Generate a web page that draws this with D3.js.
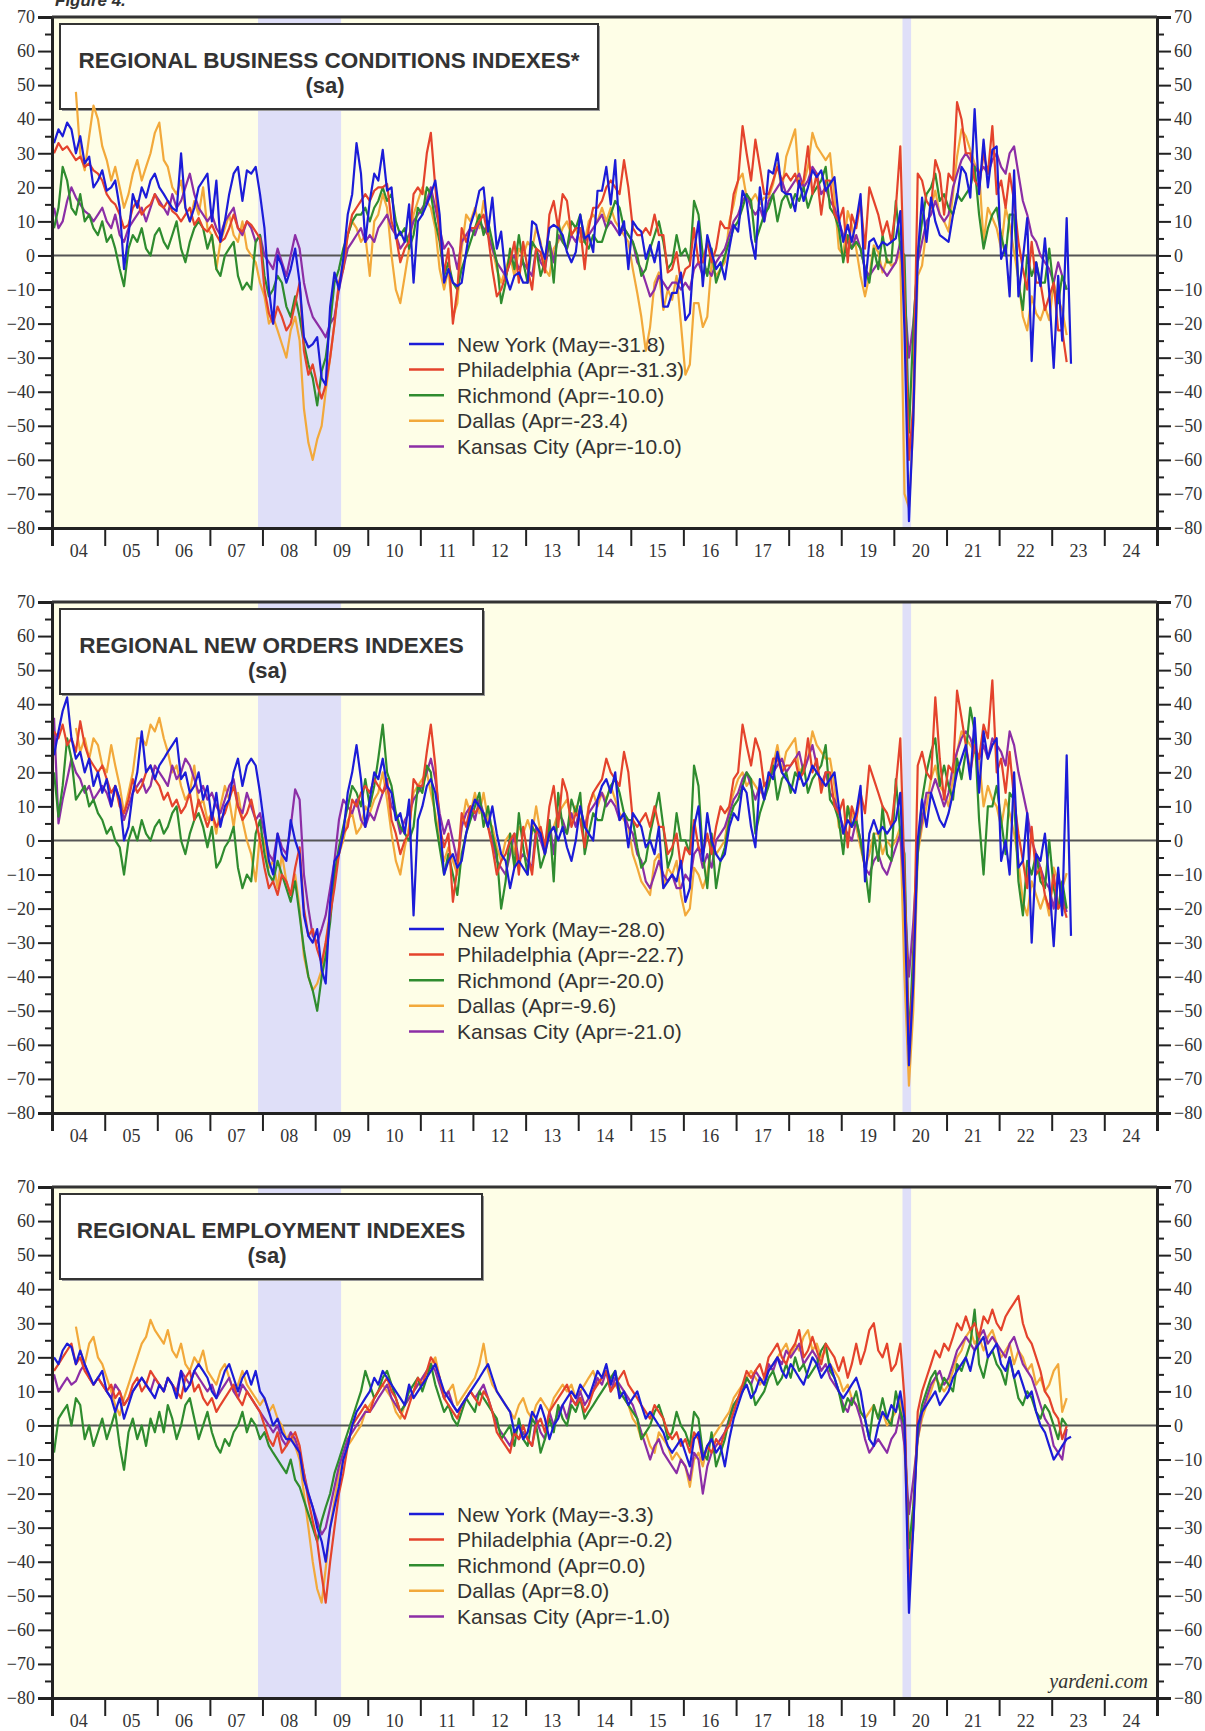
<!DOCTYPE html>
<html>
<head>
<meta charset="utf-8">
<script src="https://cdn.jsdelivr.net/npm/d3@7"></script>
<style>
  body { margin: 0; background: #fff; }
  svg text { fill: #333; }
</style>
</head>
<body>
<script>
// monthly values, Jan 2004 onwards (Dallas starts Jun 2004)
const regions = ["New York", "Philadelphia", "Richmond", "Dallas", "Kansas City"];

const nyBiz = [
  33, 37, 35, 39, 37, 30, 35, 27, 29, 20, 22, 25,
  19, 20, 22, 14, -4, 6, 18, 14, 20, 17, 22, 24,
  20, 18, 16, 14, 13, 30, 14, 10, 14, 20, 22, 24,
  10, 22, 4, 10, 18, 24, 26, 16, 25, 24, 26, 18,
  8, -10, -20, 0, -3, -8, -4, 2, -8, -24, -27, -26,
  -24, -36, -38, -15, -5, -10, -1, 12, 18, 33, 24, 4,
  16, 24, 22, 31, 19, 20, 5, 7, 4, 15, -8, 10,
  12, 15, 18, 22, 12, -8, -4, -8, -9, -8, 1, 9,
  13, 19, 20, 7, 17, 2, 7, -6, -10, -6, -5, -8,
  -8, 10, 9, 3, -1, 8, 9, 8, 6, 1, -2, 1,
  12, 5, 6, 1, 19, 19, 26, 15, 28, 6, 10, -4,
  10, 8, 7, -1, 3, -2, 4, -15, -15, -11, -11, -5,
  -19, -17, 1, 10, -9, 6, 1, -4, -2, -7, 2, 9,
  7, 19, 16, 5, -1, 20, 10, 25, 24, 30, 19, 18,
  18, 13, 22, 16, 20, 25, 23, 25, 19, 21, 23, 11,
  4, 9, 4, 10, 18, -9, 4, 5, 2, 4, 3, 4,
  5, 13, -22, -78, -48, 0, 17, 4, 17, 10, 6, 5,
  4, 12, 17, 26, 24, 17, 43, 18, 34, 20, 31, 32,
  -1, 3, -12, 25, -12, -1, 11, -31, -2, -9, 5, -11,
  -33, -6, -25, 11, -31.8
];
const phBiz = [
  30, 33, 31, 32, 30, 28, 29, 26, 27, 25, 24, 22,
  18, 16, 15, 12, 8, 9, 14, 16, 12, 14, 15, 18,
  15, 14, 16, 13, 12, 10, 12, 14, 9, 11, 8, 7,
  9, 6, 4, 5, 8, 12, 8, 7, 10, 9, 7, 5,
  -10, -17, -20, -15, -18, -22, -20, -14, -8, -28, -35, -32,
  -38, -42, -38, -30, -20, -8, -4, 6, 12, 14, 16, 18,
  16, 19, 20, 20, 21, 10, 6, -2, 2, 4, 18, 20,
  18, 30, 36, 20, 6, -5, 2, -20, -10, 8, 4, 8,
  8, 10, 12, 6, -4, -12, -10, -6, -2, 4, -8, 4,
  -4, -10, 2, 1, -5, 12, 16, 8, 18, 16, 6, 8,
  8, -4, 8, 14, 14, 16, 20, 22, 20, 18, 28, 20,
  8, 6, 6, 8, 6, 12, 6, 6, -5, -4, 1, -8,
  -4, -3, 8, -2, -2, 4, -2, 2, 10, 8, 8, 18,
  22, 38, 30, 22, 34, 26, 18, 18, 22, 26, 22, 24,
  22, 24, 20, 22, 32, 18, 24, 12, 22, 22, 12, 10,
  14, -2, 12, 8, 16, 2, 20, 16, 12, 6, 10, 4,
  14, 32, -12, -60, -44, 24, 22, 16, 14, 28, 24, 12,
  24, 22, 45, 40, 30, 30, 22, 20, 30, 24, 38, 18,
  22, 14, 24, 16, 4, -4, -10, 4, -8, -8, -16, -12,
  -8, -22, -22, -31.3
];
const riBiz = [
  8, 14, 26, 22, 14, 12, 18, 10, 12, 8, 6, 10,
  4, 6, 2, -4, -9, 2, 6, 4, 8, 2, 0, 6,
  8, 4, 2, 6, 10, 2, -2, 4, 8, 10, 8, 2,
  6, -4, -6, 0, 2, 4, -6, -10, -8, -10, 4, 6,
  -6, -12, -10, -6, -8, -15, -18, -12, -18, -26, -32, -36,
  -44, -34, -30, -20, -8, -4, 2, 6, 10, 12, 12, 14,
  10, 14, 16, 20, 16, 18, 10, 6, 8, 2, 6, 14,
  12, 20, 18, 10, 4, -6, -2, -8, -10, -4, 0, 4,
  8, 12, 6, 10, 4, -2, -14, -8, 2, -4, 6, -2,
  -8, 4, 2, -6, -2, 4, -8, 10, 4, 2, 10, 8,
  12, 4, 2, 6, 4, 4, 8, 12, 16, 14, 8, 6,
  4, 0, -6, -4, 2, 6, 10, 4, -4, -2, 6, 0,
  2, -2, 16, 12, 0, -6, 2, -8, -4, 0, 4, 8,
  10, 14, 18, 16, 4, 8, 12, 14, 18, 10, 16, 18,
  14, 18, 16, 20, 14, 18, 20, 22, 26, 14, 12, 8,
  -2, 6, 2, 4, 2, -4, -8, 2, -4, 6, -2, -2,
  16, 2, 0, -52, -22, 0, 10, 18, 20, 24, 16, 18,
  14, 12, 18, 16, 18, 20, 26, 12, 2, 8, 12, 14,
  6, 0, 12, 12, -8, -16, 0, -6, -2, -8, -8, 2,
  -10, -14, -6, -10
];
const daBiz = [
  48, 30, 25, 35, 44, 40, 32,
  28, 22, 26, 20, 14, 18, 24, 28, 22, 26, 30, 36,
  39, 28, 26, 20, 18, 22, 14, 10, 16, 12, 20, 8,
  6, -4, 4, 8, 12, 6, 4, 10, 2, 0, -2, -8,
  -12, -20, -18, -22, -26, -30, -22, -18, -25, -45, -55, -60,
  -54, -50, -40, -30, -20, -8, -2, 6, 10, 8, 4, 6,
  -6, 10, 12, 18, 14, 0, -10, -14, -6, 2, 12, 16,
  20, 16, 14, 8, -4, -10, -4, -18, -14, 2, 12, 10,
  14, 8, 16, 8, 2, -4, -8, -4, 0, -6, 2, 0,
  4, 2, 8, 4, -4, -6, 2, 4, 8, 10, 6, 8,
  4, 4, 10, 12, 10, 14, 10, 14, 10, 8, 6, 4,
  -4, -11, -18, -28, -21, -8, -5, -16, -10, -13, -6, -20,
  -35, -32, -14, -14, -21, -18, -2, -6, -4, -2, 10, 15,
  22, 24, 17, 16, 18, 15, 17, 17, 21, 27, 19, 29,
  33, 37, 21, 21, 26, 36, 32, 30, 28, 30, 17, 2,
  0, 13, 9, 2, -6, -12, -6, 3, 1, -5, -1, -3,
  -2, 1, -70, -74, -50, -6, -3, 8, 14, 19, 12, 10,
  7, 18, 29, 37, 35, 31, 27, 25, 4, 14, 11, 8,
  2, 14, 9, 1, -7, -18, -22, -12, -17, -19, -15, -19,
  -8, -13, -16, -23.4
];
const kcBiz = [
  14, 8, 10, 16, 20, 17, 15, 13, 12, 10, 12, 14,
  10, 8, 12, 6, 4, 8, 10, 12, 14, 10, 14, 18,
  16, 14, 12, 18, 14, 16, 20, 24, 18, 14, 12, 10,
  12, 8, 6, 10, 12, 14, 8, 6, 10, 8, 4, 6,
  0, -2, -4, 2, -2, -6, 0, 6, 2, -8, -14, -18,
  -20, -22, -24, -20, -18, -10, -4, 2, 4, 6, 8, 4,
  6, 4, 8, 10, 12, 8, 6, 2, 4, 6, 10, 12,
  14, 16, 20, 14, 8, 2, 4, 2, -4, 4, 6, 8,
  6, 10, 8, 6, 2, -2, -4, -6, -2, 0, -4, -2,
  -4, -6, 2, -2, -4, 4, -2, 6, 4, 2, 6, 4,
  8, 4, 6, 8, 10, 12, 8, 10, 8, 6, 8, 6,
  4, -2, -4, -8, -12, -10, -6, -8, -10, -8, -8, -10,
  -8, -10, -4, -2, -6, -4, -6, -2, 0, 2, 6, 10,
  12, 16, 18, 14, 12, 14, 10, 16, 18, 20, 22, 18,
  20, 22, 24, 20, 22, 26, 24, 18, 20, 16, 14, 10,
  6, 4, 2, 6, 2, -4, -6, -4, -2, -4, -6, -4,
  -2, 4, -12, -30, -20, -2, 4, 10, 12, 16, 12, 10,
  12, 20, 24, 28, 30, 28, 26, 24, 26, 24, 28, 30,
  26, 24, 30, 32, 24, 16, 12, 6, 4, 0, -2, -4,
  -8, -2, -6, -10
];

const nyOrd = [
  25, 32, 38, 42, 30, 24, 26, 20, 24, 16, 20, 14,
  18, 10, 16, 12, 0, 4, 14, 20, 32, 20, 22, 18,
  22, 24, 26, 28, 30, 18, 20, 14, 16, 20, 12, 16,
  6, 14, 4, 10, 12, 20, 24, 16, 22, 24, 22, 14,
  4, -6, -10, 2, -4, -6, 6, 0, -4, -22, -28, -30,
  -26, -38, -42, -18, -6, -4, 2, 14, 20, 28, 18, 4,
  12, 20, 18, 24, 16, 14, 6, 8, 2, 12, -22, 6,
  10, 16, 18, 14, 6, -10, -6, -4, -8, -6, 2, 8,
  12, 10, 8, 4, 10, 2, -4, -6, -14, -8, -6, -8,
  -10, 6, 4, 2, -4, 2, 4, 0, 4, -2, -6, 0,
  10, 4, 2, 0, 12, 16, 18, 14, 20, 6, 8, -2,
  8, 6, 4, -2, 0, -4, 4, -14, -12, -10, -12, -6,
  -18, -14, 4, 10, -6, 8, 0, -4, -6, -4, 4, 8,
  6, 16, 14, 4, -2, 18, 12, 20, 18, 26, 20, 18,
  16, 14, 20, 16, 18, 22, 20, 18, 16, 18, 20, 10,
  2, 6, 4, 8, 16, -12, 2, 6, 2, 4, 2, 4,
  6, 14, -18, -66, -42, 0, 12, 4, 14, 10, 6, 4,
  8, 14, 20, 24, 28, 18, 36, 14, 32, 24, 28, 30,
  -6, 0, -10, 20, -8, -6, 8, -30, -4, -6, 2, -12,
  -31, -8, -22, 25, -28
];
const phOrd = [
  32, 30, 34, 28, 30, 26, 35, 28, 24, 22, 20, 22,
  18, 14, 16, 10, 8, 12, 18, 14, 16, 20, 22, 18,
  16, 12, 14, 10, 12, 8, 10, 14, 6, 12, 8, 4,
  8, 4, 6, 8, 12, 16, 10, 6, 8, 12, 6, 0,
  -8, -14, -12, -16, -10, -12, -16, -8, -2, -20, -28, -26,
  -32, -36, -30, -22, -14, -4, 2, 4, 12, 10, 14, 16,
  14, 18, 16, 14, 18, 6, 2, -4, 0, 2, 18, 16,
  16, 26, 34, 22, 4, -2, 2, -18, -8, 8, 4, 10,
  8, 10, 8, 4, -2, -10, -6, -4, 0, 2, -10, 4,
  -4, -10, 2, 4, -2, 10, 16, 4, 18, 14, 4, 8,
  6, -2, 10, 14, 16, 18, 24, 20, 18, 16, 26, 20,
  6, 4, 6, 8, 4, 10, 4, 4, -4, -2, 2, -8,
  -2, -4, 6, -2, -4, 2, -4, 4, 10, 8, 10, 18,
  20, 34, 28, 22, 30, 26, 16, 18, 24, 24, 20, 22,
  22, 24, 18, 20, 30, 20, 24, 14, 20, 20, 10, 8,
  12, -2, 10, 6, 14, 8, 22, 18, 14, 10, 8, 4,
  16, 30, -10, -60, -40, 22, 26, 20, 18, 42, 24, 12,
  22, 20, 44, 36, 28, 20, 28, 24, 34, 30, 47, 20,
  24, 14, 26, 12, 2, -6, -14, 4, -10, -8, -16, -20,
  -10, -20, -18, -22.7
];
const riOrd = [
  20, 7, 16, 30, 24, 12, 14, 16, 10, 12, 8, 6,
  2, 4, 0, -2, -10, 0, 4, 0, 6, 2, 0, 4,
  6, 2, 4, 8, 10, 0, -4, 2, 6, 8, 4, -2,
  4, -8, -6, -2, 0, 4, -8, -14, -10, -12, 2, 6,
  -4, -10, -12, -6, -10, -14, -18, -12, -22, -32, -40, -44,
  -50, -40, -34, -24, -10, -2, 4, 10, 16, 14, 10, 18,
  10, 16, 24, 34, 20, 16, 8, 4, 2, 0, 4, 16,
  14, 22, 20, 6, -2, -10, -4, -10, -16, -4, 2, 6,
  10, 14, 4, 10, 2, -4, -20, -12, 2, -8, 8, -2,
  -10, 4, 2, -8, -4, 6, -12, 14, 4, 2, 12, 8,
  14, -4, 2, 8, 6, 6, 12, 16, 18, 14, 8, 6,
  6, -2, -8, -6, 2, 8, 14, 4, -8, -4, 8, 0,
  0, -4, 22, 16, -4, -14, 2, -14, -6, -2, 6, 10,
  12, 16, 20, 18, 2, 8, 12, 16, 22, 12, 18, 20,
  14, 20, 18, 22, 14, 18, 20, 22, 28, 12, 10, 6,
  -4, 10, 4, 6, 0, -8, -18, 2, -6, 10, -4, -6,
  18, 2, -4, -60, -32, -4, 12, 20, 26, 30, 16, 22,
  16, 12, 24, 18, 26, 39, 32, 6, -10, 10, 10, 16,
  6, -4, 14, 12, -12, -22, -6, -10, -4, -12, -14, 0,
  -14, -20, -12, -20
];
const daOrd = [
  33, 26, 30, 24, 30, 28, 22,
  20, 28, 22, 16, 8, 14, 20, 30, 30, 28, 34, 32,
  36, 30, 26, 20, 22, 16, 12, 14, 22, 10, 12, 6,
  8, 2, 10, 16, 12, 4, 14, 6, 0, -4, -12, 2,
  0, -8, -6, -14, -4, -12, -16, -10, -20, -34, -40, -44,
  -42, -38, -30, -20, -10, -4, 0, 6, 8, 2, 4, 10,
  8, 12, 14, 20, 12, 2, -6, -10, -2, 4, 14, 16,
  18, 20, 14, 8, 0, -6, -2, -6, -10, 4, 12, 8,
  14, 8, 14, 6, 4, -2, -6, 0, 2, -4, 4, 2,
  6, 2, 10, 2, -4, 2, 4, 8, 10, 12, 6, 10,
  6, 4, 10, 14, 10, 14, 12, 16, 12, 8, 6, 4,
  -4, -8, -12, -14, -16, -6, -4, -14, -8, -10, -6, -16,
  -22, -20, -8, -10, -14, -10, 0, -4, -2, 0, 10, 14,
  18, 20, 16, 18, 16, 14, 16, 18, 22, 28, 20, 26,
  28, 30, 20, 22, 24, 32, 28, 26, 24, 24, 16, 4,
  2, 10, 8, 4, -2, -8, -4, 2, 2, -4, 0, -2,
  0, 4, -40, -72, -50, -4, 4, 10, 18, 22, 16, 14,
  10, 18, 26, 32, 30, 28, 26, 24, 10, 16, 12, 10,
  4, 12, 8, 2, -6, -18, -22, -12, -16, -20, -16, -22,
  -8, -12, -14, -9.6
];
const kcOrd = [
  36, 5, 12, 18, 24, 20, 18, 14, 16, 12, 14, 16,
  14, 10, 16, 12, 6, 10, 14, 16, 18, 14, 16, 22,
  20, 18, 16, 22, 18, 20, 24, 22, 18, 14, 16, 12,
  14, 10, 8, 12, 16, 18, 10, 8, 14, 10, 6, 8,
  2, -4, -6, 2, -2, -4, 4, 15, 12, -10, -20, -28,
  -30, -26, -22, -14, -6, 6, 12, 10, 8, 12, 6, 4,
  8, 6, 10, 14, 16, 10, 8, 2, 6, 8, 12, 14,
  16, 20, 24, 18, 8, 2, 6, 0, -6, 4, 8, 10,
  6, 12, 8, 4, 0, -6, -8, -10, -4, 2, -6, -4,
  -6, -8, 4, 0, -4, 6, -4, 8, 6, 2, 8, 4,
  10, 4, 8, 10, 12, 14, 10, 12, 10, 6, 8, 4,
  2, -4, -6, -12, -14, -10, -6, -10, -12, -10, -14, -14,
  -10, -12, -4, -2, -8, -4, -8, 0, 2, 4, 8, 12,
  14, 18, 20, 16, 12, 16, 12, 18, 20, 22, 24, 20,
  22, 24, 26, 20, 24, 28, 22, 16, 20, 14, 12, 8,
  4, 2, 0, 6, 0, -8, -10, -6, -4, -8, -10, -6,
  -2, 2, -16, -40, -24, -2, 6, 14, 14, 18, 14, 10,
  14, 22, 26, 30, 32, 30, 26, 24, 28, 24, 30, 28,
  26, 22, 32, 28, 20, 14, 8, 0, -4, -8, -12, -14,
  -20, -10, -16, -21
];

const nyEmp = [
  20, 18, 22, 24, 23, 18, 22, 18, 15, 12, 14, 16,
  10, 8, 4, 8, 2, 6, 10, 12, 14, 12, 10, 8,
  12, 10, 14, 12, 8, 16, 10, 12, 16, 18, 16, 14,
  10, 8, 12, 16, 18, 14, 10, 14, 16, 12, 16, 10,
  8, 4, 0, 2, -2, -4, -4, -6, -8, -16, -20, -24,
  -30, -34, -40, -30, -24, -18, -10, -6, 0, 4, 6, 8,
  10, 14, 12, 16, 14, 12, 10, 8, 6, 12, 8, 10,
  12, 14, 16, 18, 14, 10, 8, 6, 4, 6, 8, 10,
  12, 14, 16, 18, 14, 10, 8, 6, 4, -2, 0, -4,
  -2, 4, 2, 6, 2, -4, 0, 2, 6, 8, 10, 8,
  12, 10, 8, 12, 16, 14, 18, 12, 16, 8, 10, 6,
  8, 10, 6, 2, 4, 2, 0, -2, -6, -8, -6, -4,
  -8, -12, -4, -2, -10, -6, -4, -8, -6, -12, -4, 2,
  6, 10, 12, 8, 10, 14, 12, 16, 18, 20, 16, 14,
  18, 16, 14, 12, 16, 20, 18, 14, 16, 18, 14, 10,
  8, 10, 12, 14, 10, 2, -4, -6, 0, 4, 2, 6,
  4, 10, 2, -55, -30, 0, 4, 6, 8, 10, 6, 8,
  10, 14, 16, 18, 20, 16, 22, 24, 26, 20, 22, 24,
  18, 16, 20, 14, 16, 12, 8, 10, 4, 0, -2, -6,
  -10, -8, -6, -4, -3.3
];
const phEmp = [
  16, 18, 20, 22, 24, 18, 20, 16, 14, 12, 14, 12,
  10, 12, 8, 10, 6, 8, 12, 14, 10, 12, 16, 14,
  12, 10, 14, 12, 10, 8, 14, 16, 10, 12, 8, 6,
  8, 4, 6, 8, 10, 12, 8, 6, 10, 8, 6, 4,
  0, -4, -6, -2, -8, -6, -4, -2, -6, -14, -22, -28,
  -34, -44, -52, -40, -30, -20, -14, -6, 0, 2, 4, 6,
  4, 8, 10, 12, 14, 10, 8, 4, 2, 6, 10, 14,
  12, 16, 20, 18, 14, 8, 6, 4, 2, 6, 8, 10,
  8, 6, 10, 8, 4, -2, -4, -6, -8, -2, -4, 0,
  -4, -6, 0, 2, -2, 4, 6, 8, 10, 12, 8, 6,
  8, 4, 6, 10, 12, 14, 16, 10, 12, 14, 16, 12,
  10, 8, 6, 4, 2, 6, 4, 2, -2, -4, -2, -6,
  -4, -8, -2, -4, -10, -6, -8, -4, -6, -2, 0, 4,
  8, 12, 16, 14, 16, 18, 14, 20, 22, 24, 20, 18,
  22, 24, 28, 20, 22, 26, 22, 18, 24, 22, 20, 16,
  20, 14, 18, 24, 18, 22, 28, 30, 22, 20, 24, 16,
  18, 24, 8, -46, -30, 4, 10, 14, 18, 22, 20, 24,
  22, 26, 30, 28, 32, 28, 30, 26, 32, 30, 34, 30,
  28, 32, 34, 36, 38, 30, 26, 24, 20, 16, 10, 8,
  4, 2, -4, -0.2
];
const riEmp = [
  -8, 2, 4, 6, 0, 8, 6, -4, 0, -6, -2, 2,
  -4, 0, 4, -6, -13, -2, 2, -4, 0, -6, 2, -2,
  4, -2, 6, 2, -4, 0, 6, 8, 2, -4, 0, 4,
  -2, -6, -8, -4, -6, -2, 0, 4, -2, 2, 0, -4,
  -2, -6, -8, -10, -12, -14, -10, -16, -18, -22, -26, -30,
  -34, -28, -24, -20, -14, -10, -6, -2, 2, 6, 10, 16,
  12, 8, 10, 14, 16, 12, 8, 4, 6, 10, 12, 14,
  10, 14, 18, 12, 8, 4, 6, 2, 0, 4, 8, 6,
  4, 10, 8, 6, 4, 2, -4, -2, 0, -6, 2, -4,
  -6, 2, 0, -8, -4, 2, -2, 6, 2, 0, 6, 4,
  8, 2, 4, 6, 8, 10, 12, 14, 16, 10, 8, 6,
  4, 2, -4, -2, 0, 4, 6, 2, -4, -2, 4, 0,
  -2, -6, 4, 2, -8, -10, -2, -12, -8, -4, 2, 6,
  8, 10, 14, 12, 6, 8, 10, 14, 16, 12, 14, 18,
  14, 20, 16, 18, 14, 16, 18, 22, 24, 16, 14, 10,
  4, 8, 6, 10, 4, 2, -4, 6, 2, 8, 2, 0,
  10, 4, 0, -36, -24, -2, 6, 10, 14, 16, 10, 14,
  12, 10, 18, 16, 20, 24, 34, 18, 14, 20, 22, 18,
  16, 12, 20, 14, 8, 6, 10, 8, 4, 2, 6, 4,
  0, -4, 2, 0
];
const daEmp = [
  29, 22, 18, 24, 26, 20, 18,
  14, 10, 6, 3, 8, 12, 16, 20, 24, 26, 31, 28,
  26, 24, 28, 22, 20, 24, 18, 16, 20, 18, 22, 16,
  14, 12, 16, 18, 14, 10, 12, 16, 12, 10, 8, 6,
  8, 4, 6, 2, 0, -4, -2, -6, -10, -20, -30, -40,
  -48, -52, -42, -30, -22, -14, -10, -6, -4, -2, 0, 4,
  6, 8, 10, 12, 10, 8, 4, 2, 6, 8, 10, 12,
  14, 16, 18, 20, 14, 8, 10, 12, 6, 8, 10, 12,
  14, 18, 24, 16, 12, 10, 8, 6, 4, 2, 6, 8,
  4, 2, 6, 8, 6, 4, 8, 10, 12, 10, 12, 8,
  10, 12, 14, 16, 12, 14, 16, 14, 12, 10, 8, 6,
  2, 0, -4, -2, -6, -8, -2, -4, -6, -10, -8, -10,
  -12, -18, -10, -8, -12, -6, -4, -2, 0, 2, 4, 8,
  10, 12, 14, 16, 14, 12, 14, 16, 18, 20, 22, 24,
  20, 24, 22, 26, 28, 22, 24, 20, 22, 18, 16, 14,
  10, 12, 8, 6, 4, 2, 4, 6, 2, 4, 0, 2,
  4, 8, -6, -40, -24, -4, 2, 6, 10, 14, 12, 10,
  12, 16, 20, 22, 26, 28, 24, 26, 22, 26, 28, 24,
  20, 22, 24, 18, 22, 20, 16, 18, 12, 14, 10, 12,
  16, 18, 4, 8
];
const kcEmp = [
  15, 10, 12, 14, 12, 13, 16, 18, 14, 12, 14, 12,
  10, 8, 12, 10, 6, 8, 10, 12, 14, 12, 10, 14,
  12, 10, 14, 12, 10, 16, 14, 12, 16, 14, 12, 10,
  12, 8, 10, 12, 14, 10, 8, 12, 10, 8, 6, 4,
  2, 0, -2, 0, -4, -6, -2, -4, -8, -14, -20, -24,
  -28, -32, -30, -24, -18, -12, -8, -4, -2, 0, 2, 4,
  4, 6, 8, 10, 12, 8, 6, 4, 6, 8, 10, 12,
  14, 16, 18, 16, 12, 8, 10, 6, 4, 6, 8, 10,
  8, 10, 12, 8, 4, 0, -2, -4, -6, -2, -4, -2,
  -4, -6, 2, -2, -4, 4, 0, 4, 6, 2, 8, 6,
  10, 6, 8, 10, 14, 12, 16, 10, 14, 12, 10, 8,
  6, 2, -2, -6, -10, -6, -4, -8, -10, -12, -14, -10,
  -12, -16, -8, -10, -20, -12, -8, -6, -4, -2, 2, 6,
  8, 10, 14, 12, 16, 14, 12, 18, 16, 20, 18, 22,
  20, 22, 24, 18, 20, 22, 20, 16, 18, 14, 12, 10,
  6, 4, 8, 6, 2, -4, -8, -6, -4, -6, -8, -4,
  -2, 4, -6, -26, -16, -4, 4, 8, 12, 14, 16, 12,
  14, 18, 22, 24, 26, 24, 22, 26, 28, 24, 26, 24,
  22, 20, 24, 26, 22, 18, 16, 14, 10, 6, 2, 0,
  -6, -8, -10, -1
];

const titles = ["REGIONAL BUSINESS CONDITIONS INDEXES*", "REGIONAL NEW ORDERS INDEXES", "REGIONAL EMPLOYMENT INDEXES"];
const legendLabels = [
  ["New York (May=-31.8)", "Philadelphia (Apr=-31.3)", "Richmond (Apr=-10.0)", "Dallas (Apr=-23.4)", "Kansas City (Apr=-10.0)"],
  ["New York (May=-28.0)", "Philadelphia (Apr=-22.7)", "Richmond (Apr=-20.0)", "Dallas (Apr=-9.6)", "Kansas City (Apr=-21.0)"],
  ["New York (May=-3.3)", "Philadelphia (Apr=-0.2)", "Richmond (Apr=0.0)", "Dallas (Apr=8.0)", "Kansas City (Apr=-1.0)"]
];
const yTicks = d3.range(-80, 71, 10);
const years = d3.range(2004, 2025);
const recessions = [["2007-12-01", "2009-06-30"], ["2020-03-01", "2020-04-30"]];

const panels = [
  [nyBiz, phBiz, riBiz, daBiz, kcBiz],
  [nyOrd, phOrd, riOrd, daOrd, kcOrd],
  [nyEmp, phEmp, riEmp, daEmp, kcEmp]
];
const startMonth = [0, 0, 0, 5, 0]; // Dallas begins June 2004

const colors = ["#1c1cd8", "#e4432c", "#2f8c2f", "#f2a93b", "#8c2ea6"];
const drawOrder = [3, 4, 2, 1, 0];

const width = 1205;
const height = 1731;
const left = 52;
const right = 1157;
const panelH = 511;
const panelTops = [17, 602, 1187];
const boxWidths = [538, 423, 422];

const parse = d3.timeParse("%Y-%m-%d");
const x = d3.scaleTime()
  .domain([new Date(2004, 0, 1), new Date(2025, 0, 1)])
  .range([left, right]);

const svg = d3.select("body").append("svg")
  .attr("width", width)
  .attr("height", height);

svg.append("text")
  .attr("x", 55).attr("y", 6)
  .attr("font-family", "Liberation Sans, Arial, sans-serif")
  .attr("font-size", 17).attr("font-weight", "bold").attr("font-style", "italic")
  .text("Figure 4.");

function toSeries(values, start) {
  return values.map((v, i) => ({ date: new Date(2004, start + i, 15), value: v }));
}

function drawPanel(p) {
  const top = panelTops[p];
  const y = d3.scaleLinear().domain([-80, 70]).range([top + panelH, top]);
  const g = svg.append("g");

  g.append("rect")
    .attr("x", left).attr("y", top)
    .attr("width", right - left).attr("height", panelH)
    .attr("fill", "#fefee7");

  g.selectAll(".rec")
    .data(recessions)
    .enter()
    .append("rect")
    .attr("x", (d) => x(parse(d[0])))
    .attr("width", (d) => x(parse(d[1])) - x(parse(d[0])))
    .attr("y", top)
    .attr("height", panelH)
    .attr("fill", "#dfdff8");

  g.append("line")
    .attr("x1", left).attr("x2", right)
    .attr("y1", y(0)).attr("y2", y(0))
    .attr("stroke", "#555").attr("stroke-width", 2);

  // title box
  const bx = 60, by = top + 7, bw = boxWidths[p], bh = 85;
  g.append("rect")
    .attr("x", bx + 2).attr("y", by + 2).attr("width", bw).attr("height", bh)
    .attr("fill", "#999");
  g.append("rect")
    .attr("x", bx).attr("y", by).attr("width", bw).attr("height", bh)
    .attr("fill", "#fff").attr("stroke", "#333").attr("stroke-width", 2);
  g.append("text")
    .attr("x", bx + bw / 2).attr("y", by + 44)
    .attr("text-anchor", "middle")
    .attr("font-family", "Liberation Sans, Arial, sans-serif")
    .attr("font-size", 22.5).attr("font-weight", "bold")
    .attr("fill", "#111")
    .text(titles[p]);
  g.append("text")
    .attr("x", bx + bw / 2 - 4).attr("y", by + 69)
    .attr("text-anchor", "middle")
    .attr("font-family", "Liberation Sans, Arial, sans-serif")
    .attr("font-size", 22).attr("font-weight", "bold")
    .attr("fill", "#111")
    .text("(sa)");

  // series
  const clipId = "clip" + p;
  svg.append("clipPath").attr("id", clipId)
    .append("rect").attr("x", left).attr("y", top).attr("width", right - left).attr("height", panelH);

  const line = d3.line()
    .x((d) => x(d.date))
    .y((d) => y(d.value));

  drawOrder.forEach((k) => {
    g.append("path")
      .datum(toSeries(panels[p][k], startMonth[k]))
      .attr("clip-path", "url(#" + clipId + ")")
      .attr("fill", "none")
      .attr("stroke", colors[k])
      .attr("stroke-width", 2.2)
      .attr("stroke-linejoin", "round")
      .attr("d", line);
  });

  // legend
  const lg = g.append("g").attr("transform", "translate(409," + (top + 327) + ")");
  regions.forEach((r, i) => {
    lg.append("line")
      .attr("x1", 0).attr("x2", 35)
      .attr("y1", i * 25.6).attr("y2", i * 25.6)
      .attr("stroke", colors[i]).attr("stroke-width", 2.5);
    lg.append("text")
      .attr("x", 48).attr("y", i * 25.6).attr("dy", "0.36em")
      .attr("font-family", "Liberation Sans, Arial, sans-serif")
      .attr("font-size", 21)
      .attr("fill", "#222")
      .text(legendLabels[p][i]);
  });

  // axes
  const serif = "Liberation Serif, Times New Roman, serif";
  g.append("g")
    .attr("transform", "translate(" + left + ",0)")
    .call(d3.axisLeft(y).tickValues(yTicks).tickSize(14).tickPadding(3));
  g.append("g")
    .attr("transform", "translate(" + right + ",0)")
    .call(d3.axisRight(y).tickValues(yTicks).tickSize(14).tickPadding(3));
  g.append("g")
    .attr("transform", "translate(" + left + ",0)")
    .call(d3.axisLeft(y).tickValues(d3.range(-75, 70, 10)).tickSize(7).tickFormat(""));
  g.append("g")
    .attr("transform", "translate(" + right + ",0)")
    .call(d3.axisRight(y).tickValues(d3.range(-75, 70, 10)).tickSize(7).tickFormat(""));

  g.append("g")
    .attr("transform", "translate(0," + (top + panelH) + ")")
    .call(d3.axisBottom(x).ticks(d3.timeYear.every(1)).tickSize(18).tickFormat(""));
  const xl = g.append("g")
    .attr("transform", "translate(0," + (top + panelH) + ")")
    .call(d3.axisBottom(x)
      .tickValues(years.map((yy) => new Date(yy, 6, 2)))
      .tickSize(0).tickPadding(16)
      .tickFormat(d3.timeFormat("%y")));
  xl.select(".domain").remove();

  g.selectAll(".tick text")
    .attr("font-family", serif)
    .attr("font-size", 18)
    .attr("fill", "#444");
  g.selectAll(".tick line").attr("stroke", "#222").attr("stroke-width", 2);
  g.selectAll(".domain").attr("stroke", "#222").attr("stroke-width", 3);

  // top frame
  g.append("line")
    .attr("x1", left).attr("x2", right)
    .attr("y1", top).attr("y2", top)
    .attr("stroke", "#333").attr("stroke-width", 3);
}

[0, 1, 2].forEach(drawPanel);

svg.append("text")
  .attr("x", 1148).attr("y", panelTops[2] + panelH - 10)
  .attr("text-anchor", "end")
  .attr("font-family", "Liberation Serif, Times New Roman, serif")
  .attr("font-style", "italic")
  .attr("font-size", 20)
  .attr("fill", "#333")
  .text("yardeni.com");
</script>
</body>
</html>
